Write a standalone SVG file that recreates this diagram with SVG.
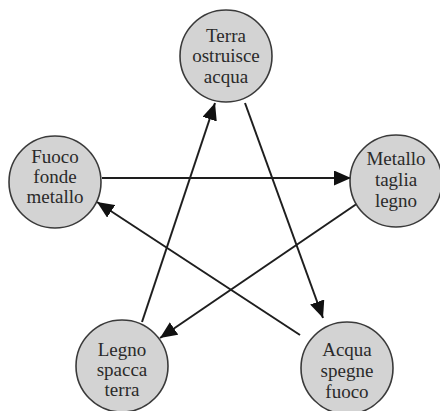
<svg xmlns="http://www.w3.org/2000/svg" width="440" height="411" viewBox="0 0 440 411">
  <style>
    .node circle { fill: #d3d3d3; stroke: #3a3a3a; stroke-width: 1.6; }
    .node text { font-family: "Liberation Serif", "Times New Roman", serif; font-size: 19px; fill: #2a2a2a; text-anchor: middle; }
    .edge { stroke: #1e1e1e; stroke-width: 2; fill: none; marker-end: url(#head); }
  </style>
  <defs>
    <marker id="head" markerUnits="userSpaceOnUse" markerWidth="17" markerHeight="15" refX="17" refY="7.5" orient="auto">
      <path d="M0,0 L17,7.5 L0,15 z" fill="#111"/>
    </marker>
  </defs>

  <!-- cycle of five elements -->
  <g id="connectors">
    <line class="edge" x1="102" y1="178" x2="351" y2="178"/>
    <line class="edge" x1="358" y1="203" x2="160" y2="338"/>
    <line class="edge" x1="142" y1="322" x2="215" y2="103"/>
    <line class="edge" x1="245" y1="103" x2="323" y2="318"/>
    <line class="edge" x1="300" y1="335" x2="97" y2="202"/>
  </g>

  <g id="terra" class="node">
    <circle cx="226" cy="56" r="46"/>
    <text x="226" y="42">Terra</text>
    <text x="226" y="62">ostruisce</text>
    <text x="226" y="83">acqua</text>
  </g>

  <g id="fuoco" class="node">
    <circle cx="55" cy="182" r="46"/>
    <text x="55" y="163">Fuoco</text>
    <text x="55" y="183">fonde</text>
    <text x="55" y="203">metallo</text>
  </g>

  <g id="metallo" class="node">
    <circle cx="396" cy="181" r="46"/>
    <text x="396" y="165">Metallo</text>
    <text x="396" y="186">taglia</text>
    <text x="396" y="207">legno</text>
  </g>

  <g id="legno" class="node">
    <circle cx="122" cy="366" r="46"/>
    <text x="122" y="356">Legno</text>
    <text x="122" y="376">spacca</text>
    <text x="122" y="396">terra</text>
  </g>

  <g id="acqua" class="node">
    <circle cx="347" cy="368" r="46"/>
    <text x="347" y="356">Acqua</text>
    <text x="347" y="377">spegne</text>
    <text x="347" y="398">fuoco</text>
  </g>
</svg>
